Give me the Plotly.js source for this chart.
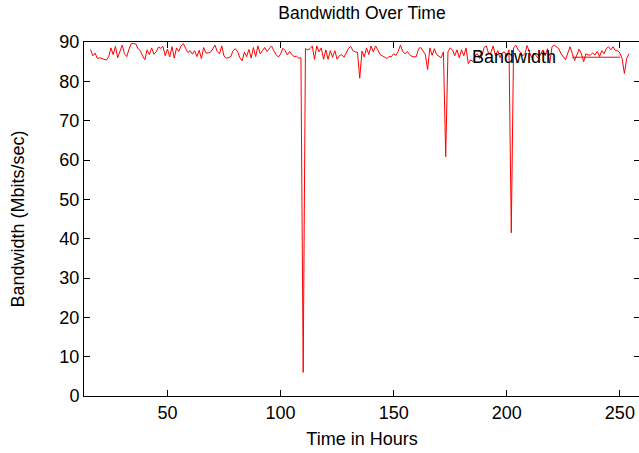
<!DOCTYPE html>
<html>
<head>
<meta charset="utf-8">
<script src="https://cdn.plot.ly/plotly-3.0.1.min.js"></script>
<style>
html,body{margin:0;padding:0;overflow:hidden;background:#fff;}
#chart{width:641px;height:453px;}
</style>
</head>
<body>
<div id="chart"></div>
<script>
// Time in hours (one sample per hour)
const startHour = 16;
const bandwidth = [
  88.1, 86.5, 87.2, 85.8, 86.0, 85.8, 85.7, 85.4, 86.2, 88.5,
  86.8, 88.9, 86.0, 87.5, 89.2, 87.0, 86.3, 88.2, 89.6, 89.6,
  89.5, 88.3, 87.8, 86.5, 85.5, 88.0, 86.8, 88.5, 86.9, 87.5,
  88.7, 88.4, 88.9, 86.5, 88.2, 86.2, 88.8, 85.9, 88.5, 87.6,
  89.0, 89.6, 88.5, 87.3, 87.8, 86.9, 87.8, 86.3, 87.9, 85.8,
  88.6, 87.2, 87.2, 87.4, 88.2, 89.2, 87.6, 87.0, 89.0, 86.4,
  85.9, 86.0, 86.3, 87.8, 88.3, 87.6, 86.0, 85.2, 87.4, 86.3,
  88.1, 85.9, 88.6, 86.3, 89.0, 87.0, 87.8, 88.6, 87.6, 88.3,
  89.0, 87.8, 86.8, 86.2, 86.9, 88.4, 87.8, 86.7, 87.6, 86.8,
  86.3, 86.4, 85.9, 86.0, 6.0, 88.3, 88.0, 88.3, 89.0, 85.6,
  89.0, 87.5, 88.5, 85.6, 88.0, 85.6, 87.8, 86.1, 87.8, 85.6,
  86.5, 86.8, 86.1, 87.2, 88.3, 88.9, 87.8, 87.5, 87.4, 80.8,
  87.7, 86.2, 88.5, 86.8, 89.0, 87.5, 89.0, 88.0, 86.8, 86.5,
  86.2, 85.8, 86.3, 86.3, 87.0, 86.6, 87.6, 89.2, 87.6, 87.0,
  87.6, 86.8, 86.4, 86.2, 86.3, 88.3, 88.6, 87.8, 86.8, 83.0,
  88.5, 86.6, 88.3, 86.8, 86.5, 86.0, 87.5, 60.8, 87.5, 88.5,
  88.0, 86.5, 88.0, 86.0, 88.0, 86.5, 88.5, 84.5, 85.5, 85.0,
  86.5, 87.0, 85.8, 86.5, 88.6, 89.0, 87.0, 87.3, 89.0, 86.5,
  87.8, 86.0, 87.2, 87.5, 86.3, 88.0, 41.5, 88.5, 89.2, 88.0,
  87.5, 86.5, 87.0, 89.1, 87.5, 86.0, 87.2, 86.5, 85.8, 87.0,
  88.0, 86.5, 88.3, 84.6, 88.8, 89.2, 88.8, 88.3, 87.0, 86.3,
  85.5, 87.2, 88.8, 87.0, 85.3, 86.7, 88.2, 87.0, 85.0, 87.0,
  86.7, 86.7, 87.2, 86.7, 87.6, 86.3, 87.8, 87.0, 88.3, 88.8,
  88.0, 88.8, 87.8, 87.8, 87.2, 85.8, 82.0, 85.8, 87.0
];
const hours = bandwidth.map((_, i) => startHour + i);
const xTicks = [50, 100, 150, 200, 250];
const yTicks = [0, 10, 20, 30, 40, 50, 60, 70, 80, 90];
const seriesName = "Bandwidth";

const font = {family: "Liberation Sans, Arial, sans-serif", size: 18, color: "#000"};

const trace = {
  x: hours, y: bandwidth, type: "scatter", mode: "lines",
  name: seriesName, line: {color: "#ff0000", width: 1}, showlegend: false
};

const axisCommon = {
  showgrid: false, zeroline: false, showline: true, linecolor: "#000", linewidth: 1,
  mirror: "ticks", ticks: "inside", ticklen: 6, tickcolor: "#000", tickwidth: 1,
  tickfont: font
};

const layout = {
  width: 641, height: 453,
  margin: {l: 84, r: 1, t: 42, b: 57},
  paper_bgcolor: "#fff", plot_bgcolor: "#fff",
  font: font,
  title: {text: "Bandwidth Over Time", font: {family: font.family, size: 17.5, color: "#000"},
          xref: "paper", x: 0.5, yref: "container", y: 0.971, yanchor: "middle"},
  xaxis: Object.assign({}, axisCommon, {
    range: [13.1, 258.9], tickmode: "array", tickvals: xTicks, ticktext: xTicks.map(String),
    title: {text: "Time in Hours", font: font, standoff: 10}
  }),
  yaxis: Object.assign({}, axisCommon, {
    range: [0, 90], tickmode: "array", tickvals: yTicks, ticktext: yTicks.map(String),
    title: {text: "Bandwidth (Mbits/sec)", font: font, standoff: 30}
  }),
  annotations: [{
    text: seriesName, xref: "paper", yref: "paper", x: 0.853, y: 0.957,
    xanchor: "right", yanchor: "middle", showarrow: false, font: font
  }],
  shapes: [{
    type: "line", xref: "paper", yref: "paper", x0: 0.878, x1: 0.964, y0: 0.957, y1: 0.957,
    line: {color: "#ff0000", width: 1}
  }]
};

Plotly.newPlot("chart", [trace], layout, {displayModeBar: false, staticPlot: true});
</script>
</body>
</html>
